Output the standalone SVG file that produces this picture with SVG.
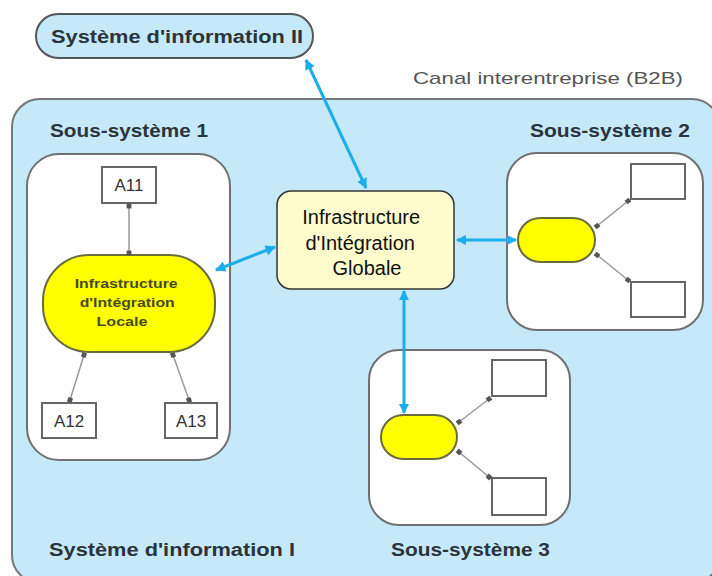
<svg xmlns="http://www.w3.org/2000/svg" width="712" height="576" viewBox="0 0 712 576">
<defs>
<style>
.lbl{font-family:"Liberation Sans",Arial,sans-serif;font-weight:bold;font-size:18px;fill:#2b343c}
.sub{fill:#fff;stroke:#707070;stroke-width:2}
.yel{fill:#ffff00;stroke:#6b6b40;stroke-width:2}
.box{fill:#fff;stroke:#666;stroke-width:2}
.gl{stroke:#999;stroke-width:1.5;fill:none}
.bl{stroke:#1aaeea;stroke-width:3;fill:none}
.atxt{font-family:"Liberation Sans",Arial,sans-serif;font-size:17px;fill:#333;text-anchor:middle}
</style>
<marker id="ab" viewBox="0 0 10 10" refX="9" refY="5" markerWidth="3.5" markerHeight="3.5" orient="auto-start-reverse" markerUnits="strokeWidth">
<path d="M0,0 L10,5 L0,10 Z" fill="#1aaeea"/>
</marker>
<marker id="dot" viewBox="0 0 10 10" refX="5" refY="5" markerWidth="4" markerHeight="4" orient="auto" markerUnits="strokeWidth">
<rect x="1" y="1" width="8" height="8" fill="#555"/>
</marker>
</defs>
<rect width="712" height="576" fill="#fff"/>

<g id="si1">
<rect x="12" y="99" width="708" height="484" rx="28" fill="#c6e9f9" stroke="#777" stroke-width="2"/>
<text class="lbl" x="50" y="137" textLength="158" lengthAdjust="spacingAndGlyphs">Sous-système 1</text>
<text class="lbl" x="530" y="137" textLength="160" lengthAdjust="spacingAndGlyphs">Sous-système 2</text>
<text class="lbl" x="49" y="556" textLength="246" lengthAdjust="spacingAndGlyphs">Système d'information I</text>
<text class="lbl" x="391" y="556" textLength="159" lengthAdjust="spacingAndGlyphs">Sous-système 3</text>
</g>

<g id="si2">
<rect x="36" y="14" width="277" height="44" rx="22" fill="#c6e9f9" stroke="#555" stroke-width="2"/>
<text class="lbl" x="51" y="43" textLength="252" lengthAdjust="spacingAndGlyphs">Système d'information II</text>
</g>

<g id="canal">
<text x="413" y="84" textLength="270" lengthAdjust="spacingAndGlyphs" font-family="'Liberation Sans',Arial,sans-serif" font-size="17" fill="#555">Canal interentreprise (B2B)</text>
</g>

<g id="ss1">
<rect class="sub" x="27" y="154" width="203" height="306" rx="32"/>
</g>
<g id="a11"><rect class="box" x="102" y="167" width="54" height="36"/><text class="atxt" x="129" y="191">A11</text></g>
<g id="ilocale">
<rect class="yel" x="43" y="255" width="172" height="97" rx="46"/>
<text font-family="'Liberation Sans',Arial,sans-serif" font-weight="bold" font-size="13" fill="#4a4a20" text-anchor="middle">
<tspan x="128" y="288" textLength="103" lengthAdjust="spacingAndGlyphs">Infrastructure</tspan>
<tspan x="129" y="307" textLength="95" lengthAdjust="spacingAndGlyphs">d'Intégration</tspan>
<tspan x="122" y="326" textLength="51" lengthAdjust="spacingAndGlyphs">Locale</tspan>
</text>
</g>
<g id="a12"><rect class="box" x="42" y="403" width="54" height="35"/><text class="atxt" x="69" y="427">A12</text></g>
<g id="a13"><rect class="box" x="165" y="403" width="52" height="35"/><text class="atxt" x="191" y="427">A13</text></g>

<g id="iglobale">
<rect x="277" y="191" width="177" height="98" rx="14" fill="#fefccc" stroke="#333" stroke-width="1.5"/>
<text font-family="'Liberation Sans',Arial,sans-serif" font-size="20" fill="#111" text-anchor="middle">
<tspan x="364" y="224">Infrastructure</tspan>
<tspan x="363" y="250">d'Intégration</tspan>
<tspan x="367" y="275">Globale</tspan>
</text>
</g>

<g id="ss2">
<rect class="sub" x="507" y="153" width="196" height="177" rx="30"/>
<rect class="yel" x="518" y="218" width="77" height="44" rx="22"/>
<rect class="box" x="631" y="164" width="54" height="35"/>
<rect class="box" x="631" y="282" width="54" height="35"/>
</g>

<g id="ss3">
<rect class="sub" x="369" y="350" width="201" height="175" rx="30"/>
<rect class="yel" x="381" y="415" width="76" height="44" rx="22"/>
<rect class="box" x="492" y="360" width="54" height="36"/>
<rect class="box" x="492" y="478" width="54" height="37"/>
</g>

<g id="connectors">
<line class="gl" x1="129" y1="206" x2="129" y2="253" marker-start="url(#dot)" marker-end="url(#dot)"/>
<line class="gl" x1="84" y1="355" x2="70" y2="400" marker-start="url(#dot)" marker-end="url(#dot)"/>
<line class="gl" x1="173" y1="355" x2="189" y2="400" marker-start="url(#dot)" marker-end="url(#dot)"/>
<line class="gl" x1="597" y1="226" x2="628" y2="201" marker-start="url(#dot)" marker-end="url(#dot)"/>
<line class="gl" x1="597" y1="255" x2="628" y2="280" marker-start="url(#dot)" marker-end="url(#dot)"/>
<line class="gl" x1="459" y1="422" x2="489" y2="399" marker-start="url(#dot)" marker-end="url(#dot)"/>
<line class="gl" x1="459" y1="452" x2="489" y2="477" marker-start="url(#dot)" marker-end="url(#dot)"/>
<line class="bl" x1="306" y1="60" x2="366" y2="188" marker-start="url(#ab)" marker-end="url(#ab)"/>
<line class="bl" x1="275" y1="247" x2="216" y2="270" marker-start="url(#ab)" marker-end="url(#ab)"/>
<line class="bl" x1="457" y1="240" x2="516" y2="240" marker-start="url(#ab)" marker-end="url(#ab)"/>
<line class="bl" x1="404" y1="291" x2="404" y2="413" marker-start="url(#ab)" marker-end="url(#ab)"/>
</g>
</svg>
